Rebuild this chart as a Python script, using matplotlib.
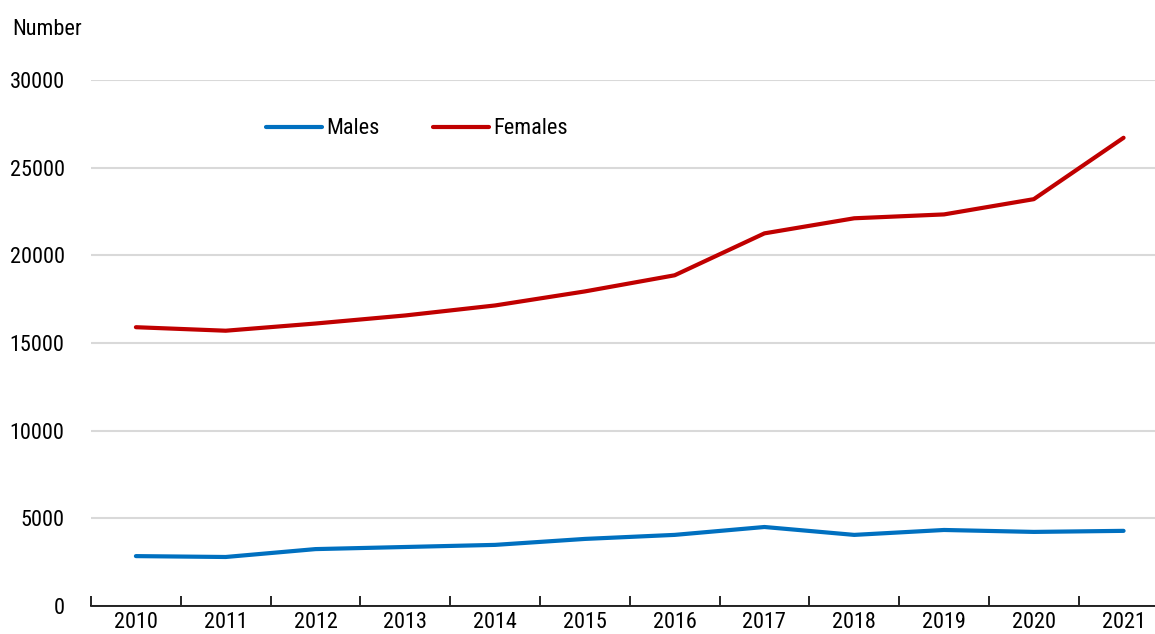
import matplotlib
matplotlib.use("Agg")
import matplotlib.pyplot as plt
from matplotlib import font_manager

# ------------------------------------------------------------------ #
#  DONNEES                                                             #
# ------------------------------------------------------------------ #
years = ["2010", "2011", "2012", "2013", "2014", "2015",
         "2016", "2017", "2018", "2019", "2020", "2021"]
males = [2850, 2800, 3250, 3370, 3490, 3830, 4060, 4510, 4060, 4340, 4230, 4290]
females = [15900, 15700, 16110, 16570, 17140, 17940, 18860, 21250, 22110, 22330, 23200, 26700]
y_ticks = [0, 5000, 10000, 15000, 20000, 25000, 30000]

BLUE, RED = "#0070C0", "#C00000"

# police etroite si disponible (Arial Narrow dans l'original)
narrow = [f for f in font_manager.fontManager.ttflist
          if ("Narrow" in f.fname or "Condensed" in f.fname)
          and f.weight in (400, "normal", "regular") and f.style == "normal"]
narrow.sort(key=lambda f: (0 if "Liberation" in f.fname else 1 if "Roboto" in f.fname else 2))
FONT_NAME = "Liberation Sans"
if narrow:
    font_manager.fontManager.addfont(narrow[0].fname)
    FONT_NAME = font_manager.FontProperties(fname=narrow[0].fname).get_name()
    plt.rcParams["font.stretch"] = narrow[0].stretch
plt.rcParams["font.family"] = [FONT_NAME, "DejaVu Sans"]
FS = 16

fig = plt.figure(figsize=(11.55, 6.34), dpi=100)
ax = fig.add_axes([0.0788, 0.044, 0.9212, 0.83])

x = range(len(years))
ax.plot(x, males, color=BLUE, lw=3, solid_capstyle="round", label="Males")
ax.plot(x, females, color=RED, lw=3, solid_capstyle="round", label="Females")

ax.set_xlim(-0.5, 11.35)
ax.set_ylim(0, 30000)
ax.set_yticks(y_ticks)
ax.set_yticklabels([str(v) for v in y_ticks], fontsize=FS)
ax.yaxis.grid(True, color="#d9d9d9", lw=1.5)
ax.set_axisbelow(True)
ax.tick_params(axis="y", length=0, pad=19)

ax.set_xticks([i - 0.5 for i in x], minor=False)
ax.set_xticklabels([])
ax.set_xticks(list(x), minor=True)
ax.set_xticklabels(years, minor=True, fontsize=FS)
ax.tick_params(axis="x", which="major", direction="in", length=7, width=1.2, color="black")
ax.tick_params(axis="x", which="minor", length=0, pad=4)

for s in ["top", "right", "left"]:
    ax.spines[s].set_visible(False)
ax.spines["bottom"].set_linewidth(1.2)

ax.legend(loc="center left", bbox_to_anchor=(0.146, 0.907), ncol=2, frameon=False,
          fontsize=FS, handlelength=2.5, handletextpad=0.2, columnspacing=2.4)

fig.text(0.011, 0.953, "Number", fontsize=FS, va="center", ha="left")

fig.savefig("out.png", dpi=100, facecolor="white")
